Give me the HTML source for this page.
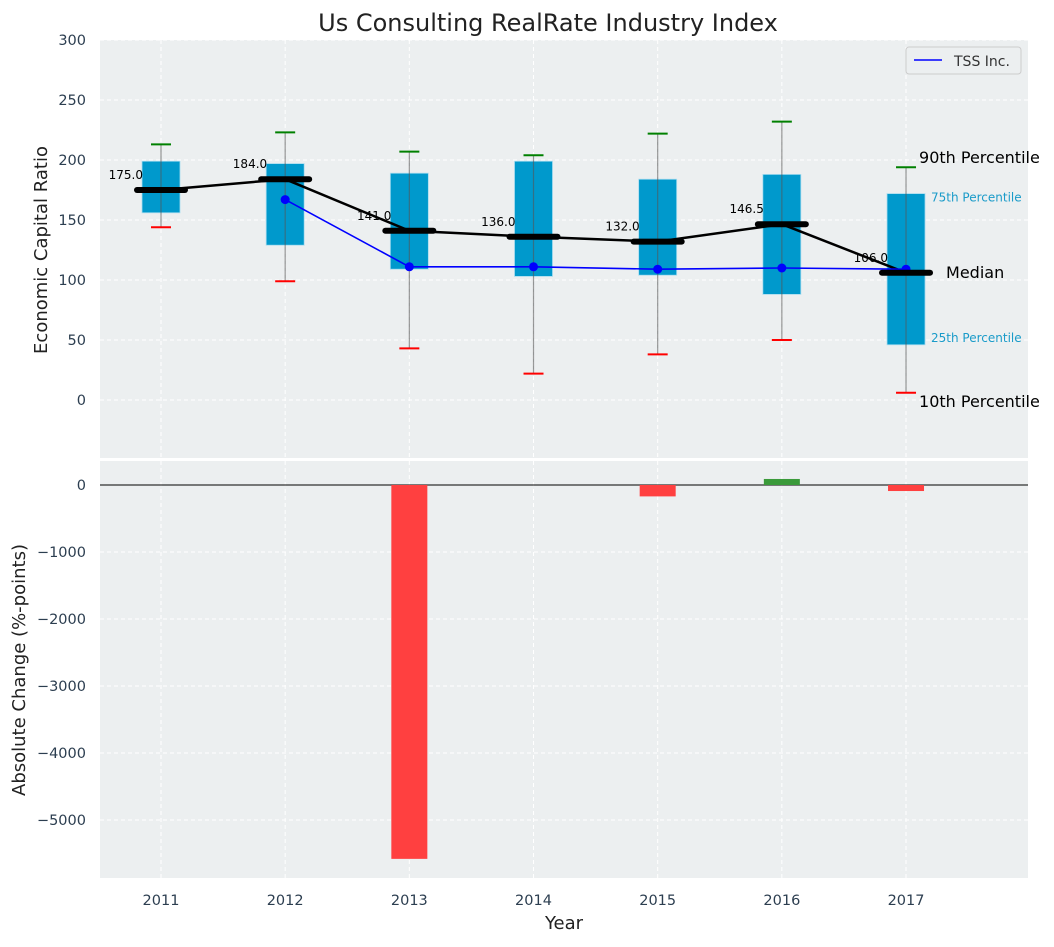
<!DOCTYPE html>
<html><head><meta charset="utf-8"><style>
body{margin:0;background:#fff;font-family:"Liberation Sans","DejaVu Sans",sans-serif}
svg text{font-family:"DejaVu Sans","Liberation Sans",sans-serif}
</style></head><body>
<svg id="c" width="1054" height="942" xmlns="http://www.w3.org/2000/svg"></svg>
<script>
const years=[2011,2012,2013,2014,2015,2016,2017];
const p10=[144,99,43,22,38,50,6];
const p25=[156,129,109,103,104,88,46];
const med=[175,184,141,136,132,146.5,106];
const p75=[199,197,189,199,184,188,172];
const p90=[213,223,207,204,222,232,194];
const tssYears=[2012,2013,2014,2015,2016,2017];
const tss=[167,111,111,109,110,109];
const changes=[0,0,-5580,0,-170,90,-90];
const topTicks=[0,50,100,150,200,250,300];
const botTicks=[0,-1000,-2000,-3000,-4000,-5000];

const svg=document.getElementById('c');
const NS='http://www.w3.org/2000/svg';
function mk(t,a,p){const e=document.createElementNS(NS,t);for(const k in a)e.setAttribute(k,a[k]);(p||svg).appendChild(e);return e;}
const L=100,R=1028;
const x=v=>161+(v-2011)*124.17;
const yT=v=>400-v*1.2;
const yB=v=>485-v*0.067;
const T0=40,T1=458,B0=461,B1=878;

let e;
e=mk('rect',{x:L,y:T0,width:R-L,height:T1-T0,fill:'#eceff0'});

e=mk('rect',{x:L,y:B0,width:R-L,height:B1-B0,fill:'#eceff0'});


years.forEach(yr=>{
  e=mk('line',{x1:x(yr),x2:x(yr),y1:T0,y2:T1,stroke:'#fff','stroke-dasharray':'4,3','stroke-width':1});
  
  e=mk('line',{x1:x(yr),x2:x(yr),y1:B0,y2:B1,stroke:'#fff','stroke-dasharray':'4,3','stroke-width':1});
  
  e=mk('text',{x:x(yr),y:905,'font-size':14.5,fill:'#2c3e50','text-anchor':'middle'});e.textContent=yr;
  
});
topTicks.forEach(t=>{
  e=mk('line',{x1:L,x2:R,y1:yT(t),y2:yT(t),stroke:'#fff','stroke-dasharray':'4,3'});
  
  e=mk('text',{x:86,y:yT(t)+5,'font-size':14.5,fill:'#2c3e50','text-anchor':'end'});e.textContent=t;
  
});
botTicks.forEach(t=>{
  e=mk('line',{x1:L,x2:R,y1:yB(t),y2:yB(t),stroke:'#fff','stroke-dasharray':'4,3'});
  
  e=mk('text',{x:86,y:yB(t)+5,'font-size':14.5,fill:'#2c3e50','text-anchor':'end'});e.textContent=t===0?'0':'\u2212'+Math.abs(t);
  
});

years.forEach((yr,i)=>{
  const cx=x(yr);
  e=mk('rect',{x:cx-19,y:yT(p75[i]),width:38,height:yT(p25[i])-yT(p75[i]),fill:'#0099cc',stroke:'#a8dcef','stroke-width':0.8});
  
  e=mk('line',{x1:cx,x2:cx,y1:yT(p10[i]),y2:yT(p90[i]),stroke:'#555','stroke-opacity':0.6,'stroke-width':1.2});
  
  e=mk('line',{x1:cx-10,x2:cx+10,y1:yT(p90[i]),y2:yT(p90[i]),stroke:'green','stroke-width':2});
  
  e=mk('line',{x1:cx-10,x2:cx+10,y1:yT(p10[i]),y2:yT(p10[i]),stroke:'red','stroke-width':2});
  
});
e=mk('polyline',{points:years.map((yr,i)=>x(yr)+','+yT(med[i])).join(' '),fill:'none',stroke:'#000','stroke-width':2.5});

e=mk('polyline',{points:tssYears.map((yr,i)=>x(yr)+','+yT(tss[i])).join(' '),fill:'none',stroke:'blue','stroke-width':1.6});

tssYears.forEach((yr,i)=>{
  e=mk('circle',{cx:x(yr),cy:yT(tss[i]),r:4.5,fill:'blue'});
  
});
years.forEach((yr,i)=>{
  const cx=x(yr);
  e=mk('line',{x1:cx-24,x2:cx+24,y1:yT(med[i]),y2:yT(med[i]),stroke:'#000','stroke-width':6,'stroke-linecap':'round'});
  
  e=mk('text',{x:cx-18,y:yT(med[i])-11,'font-size':12,fill:'#000','text-anchor':'end'});e.textContent=med[i].toFixed(1);
  
});
const ax=x(2017),ai=6;
[['90th Percentile',yT(p90[ai])-4,ax+13,16,'#000'],['75th Percentile',yT(p75[ai])+8,ax+25,12,'#1a9bc9'],
 ['Median',yT(med[ai])+5,ax+40,16,'#000'],['25th Percentile',yT(p25[ai])-3,ax+25,12,'#1a9bc9'],
 ['10th Percentile',yT(p10[ai])+14,ax+13,16,'#000']].forEach(a=>{
  e=mk('text',{x:a[2],y:a[1],'font-size':a[3],fill:a[4]});e.textContent=a[0];
  
});

e=mk('line',{x1:L,x2:R,y1:yB(0),y2:yB(0),stroke:'#000','stroke-width':1});

years.forEach((yr,i)=>{
  if(!changes[i])return;
  const v=changes[i];
  e=mk('rect',{x:x(yr)-18,y:Math.min(yB(0),yB(v)),width:36,height:Math.abs(yB(v)-yB(0)),fill:v<0?'#ff4040':'#3a9a3a'});
  
});

e=mk('rect',{x:906,y:47,width:115,height:27,fill:'#eceff0',stroke:'#ccc',rx:3});

e=mk('line',{x1:914,x2:942,y1:60,y2:60,stroke:'blue','stroke-width':1.6});

e=mk('text',{x:954,y:66,'font-size':14,fill:'#333'});e.textContent='TSS Inc.';


e=mk('text',{x:548,y:31,'font-size':24,fill:'#222','text-anchor':'middle'});e.textContent='Us Consulting RealRate Industry Index';

e=mk('text',{x:564,y:929,'font-size':18,fill:'#222','text-anchor':'middle'});e.textContent='Year';

e=mk('text',{x:0,y:0,'font-size':18,fill:'#222','text-anchor':'middle',transform:'translate(47,250) rotate(-90)'});e.textContent='Economic Capital Ratio';

e=mk('text',{x:0,y:0,'font-size':18,fill:'#222','text-anchor':'middle',transform:'translate(25,670) rotate(-90)'});e.textContent='Absolute Change (%-points)';

</script>
</body></html>
